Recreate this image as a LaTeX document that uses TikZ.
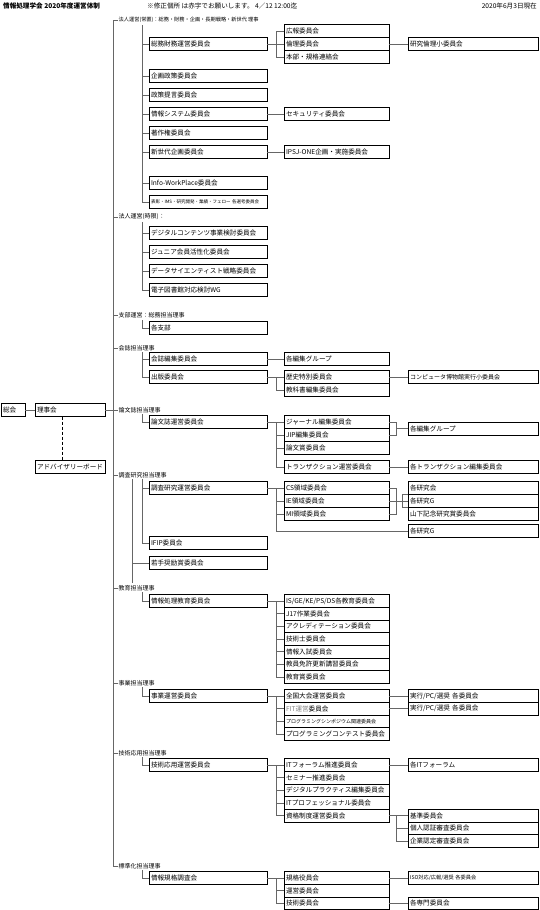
\documentclass[tikz,border=0pt]{standalone}
\usepackage{fontspec}
\setmainfont{Noto Sans CJK JP}
\begin{document}
\begin{tikzpicture}[x=1pt,y=-1pt,
  box/.style={draw=black, line width=0.6pt, anchor=west, inner xsep=2pt, inner ysep=0pt, outer sep=0pt, minimum height=13pt, align=left, font=\fontsize{6.6}{7}\selectfont},
  sb/.style={minimum height=12.7pt},
  c1/.style={box, text width=114pt},
  c2/.style={box, text width=101pt},
  c3/.style={box, text width=126pt},
  conn/.style={draw=black!60, line width=0.75pt},
  cat/.style={anchor=west, inner sep=0.5pt, font=\fontsize{6}{7}\selectfont},
  hdr/.style={inner sep=0pt, font=\fontsize{6.6}{7}\selectfont},
]
\useasboundingbox (0,0) rectangle (540,910);

% header
\node[hdr, anchor=west, font=\bfseries\fontsize{6.6}{7}\selectfont] (title) at (3,6) {情報処理学会 2020年度運営体制};
\node[hdr, anchor=west] (note) at (147,6) {※修正個所 は赤字でお願いします。 4／12 12:00迄};
\node[hdr, anchor=east] (date) at (537,6) {2020年6月3日現在};

% left
\node[box, text width=20pt] (sokai) at (1,410) {総会};
\node[box, text width=66pt] (rijikai) at (35,410) {理事会};
\node[box, text width=66pt] (adv) at (35,467) {アドバイザリーボード};
\draw[conn] (sokai) -- (rijikai);
\draw[draw=black, line width=0.7pt, dash pattern=on 3pt off 2pt] ([xshift=27pt]rijikai.south west) -- ([xshift=27pt]adv.north west);

% category labels
\node[cat, font=\fontsize{5.2}{6}\selectfont] (L1) at (118,20) {法人運営(常置)：総務・財務・企画・長期戦略・新世代 理事};
\node[cat] (L2) at (118,217) {法人運営(時限)：};
\node[cat] (L3) at (118,315) {支部運営：総務担当理事};
\node[cat] (L4) at (118,348) {会誌担当理事};
\node[cat] (L5) at (118,410) {論文誌担当理事};
\node[cat] (L6) at (118,475) {調査研究担当理事};
\node[cat] (L7) at (118,588) {教育担当理事};
\node[cat] (L8) at (118,683) {事業担当理事};
\node[cat] (L9) at (118,753) {技術応用担当理事};
\node[cat] (L10) at (118,866) {標準化担当理事};

% main trunk
\coordinate (Tbot) at (113,866);
\draw[conn] (L1.west) -| (Tbot) -- (L10.west);
\foreach \l in {L2,L3,L4,L6,L7,L8,L9} \draw[conn] (\l.west -| Tbot) -- (\l.west);
\draw[conn] (rijikai.east) -- (L5.west);

% column 1
\node[c1] (a1) at (149,44) {総務財務運営委員会};
\node[c1] (a2) at (149,76) {企画政策委員会};
\node[c1] (a3) at (149,95) {政策提言委員会};
\node[c1] (a4) at (149,114) {情報システム委員会};
\node[c1] (a5) at (149,133) {著作権委員会};
\node[c1] (a6) at (149,152) {新世代企画委員会};
\node[c1] (a7) at (149,183) {Info-WorkPlace委員会};
\node[c1, font=\fontsize{4.5}{5}\selectfont] (a8) at (149,202) {表彰・IMS・研究開発・業績・フェロー 各選考委員会};
\node[c1] (b1) at (149,233) {デジタルコンテンツ事業検討委員会};
\node[c1] (b2) at (149,252) {ジュニア会員活性化委員会};
\node[c1] (b3) at (149,271) {データサイエンティスト戦略委員会};
\node[c1] (b4) at (149,290) {電子図書館対応検討WG};
\node[c1] (d1) at (149,328) {各支部};
\node[c1] (e1) at (149,359) {会誌編集委員会};
\node[c1] (e2) at (149,377) {出版委員会};
\node[c1] (f1) at (149,422) {論文誌運営委員会};
\node[c1] (g1) at (149,488) {調査研究運営委員会};
\node[c1] (g2) at (149,543) {IFIP委員会};
\node[c1] (g3) at (149,563) {若手奨励賞委員会};
\node[c1] (h1) at (149,601) {情報処理教育委員会};
\node[c1] (i1) at (149,696) {事業運営委員会};
\node[c1] (j1) at (149,765) {技術応用運営委員会};
\node[c1] (k1) at (149,878) {情報規格調査会};

% sub trunks
\coordinate (s1) at (142,25);
\coordinate (s2) at (142,222);
\coordinate (s3) at (142,320);
\coordinate (s4) at (142,352);
\coordinate (s5) at (142,414);
\coordinate (s6) at (142,479);
\coordinate (s6b) at (132,479);
\coordinate (s6e) at (132,583);
\coordinate (s7) at (142,592);
\coordinate (s8) at (142,687);
\coordinate (s9) at (142,757);
\coordinate (s10) at (142,870);
\foreach \c in {a1,a2,a3,a4,a5,a6,a7,a8} \draw[conn] (s1) |- (\c.west);
\foreach \c in {b1,b2,b3,b4} \draw[conn] (s2) |- (\c.west);
\draw[conn] (s3) |- (d1.west);
\foreach \c in {e1,e2} \draw[conn] (s4) |- (\c.west);
\draw[conn] (s5) |- (f1.west);
\foreach \c in {g1,g2} \draw[conn] (s6) |- (\c.west);
\draw[conn] (s6b) -- (s6e);
\draw[conn] (g3.west -| s6b) -- (g3.west);
\draw[conn] (s7) |- (h1.west);
\draw[conn] (s8) |- (i1.west);
\draw[conn] (s9) |- (j1.west);
\draw[conn] (s10) |- (k1.west);

% column 2
\node[c2] (a1x) at (284,31) {広報委員会};
\node[c2] (a1y) at (284,44) {倫理委員会};
\node[c2] (a1z) at (284,57) {本部・規格連絡会};
\node[c2] (a4x) at (284,114) {セキュリティ委員会};
\node[c2] (a6x) at (284,152) {IPSJ-ONE企画・実施委員会};
\node[c2] (e1x) at (284,359) {各編集グループ};
\node[c2] (e2x) at (284,377) {歴史特別委員会};
\node[c2] (e2y) at (284,390) {教科書編集委員会};
\node[c2] (f1a) at (284,422) {ジャーナル編集委員会};
\node[c2] (f1b) at (284,435) {JIP編集委員会};
\node[c2] (f1c) at (284,448) {論文賞委員会};
\node[c2] (f1d) at (284,467) {トランザクション運営委員会};
\node[c2] (g1a) at (284,488) {CS領域委員会};
\node[c2] (g1b) at (284,501) {IE領域委員会};
\node[c2] (g1c) at (284,514) {MI領域委員会};
\node[c2, sb] (h1a) at (284,601) {IS/GE/KE/PS/DS各教育委員会};
\node[c2, sb] (h1b) at (284,613.7) {J17作業委員会};
\node[c2, sb] (h1c) at (284,626.3) {アクレディテーション委員会};
\node[c2, sb] (h1d) at (284,639) {技術士委員会};
\node[c2, sb] (h1e) at (284,651.7) {情報入試委員会};
\node[c2, sb] (h1f) at (284,664.3) {教員免許更新講習委員会};
\node[c2, sb] (h1g) at (284,677) {教育賞委員会};
\node[c2, sb] (i1a) at (284,696) {全国大会運営委員会};
\node[c2, sb] (i1b) at (284,708.7) {{\color{black!50}FIT運営}委員会};
\node[c2, sb, font=\fontsize{5}{6}\selectfont] (i1c) at (284,721.3) {プログラミングシンポジウム関連委員会};
\node[c2, sb] (i1d) at (284,734) {プログラミングコンテスト委員会};
\node[c2, sb] (j1a) at (284,765) {ITフォーラム推進委員会};
\node[c2, sb] (j1b) at (284,777.7) {セミナー推進委員会};
\node[c2, sb] (j1c) at (284,790.3) {デジタルプラクティス編集委員会};
\node[c2, sb] (j1d) at (284,803) {ITプロフェッショナル委員会};
\node[c2, sb] (j1e) at (284,815.7) {資格制度運営委員会};
\node[c2, sb] (k1a) at (284,878) {規格役員会};
\node[c2, sb] (k1b) at (284,890.7) {運営委員会};
\node[c2, sb] (k1c) at (284,903.3) {技術委員会};

% column 3
\node[c3] (a1yy) at (408,44) {研究倫理小委員会};
\node[c3, font=\fontsize{6}{7}\selectfont] (e2xx) at (408,377) {コンピュータ博物館実行小委員会};
\node[c3] (f1z) at (408,428.5) {各編集グループ};
\node[c3] (f1dd) at (408,467) {各トランザクション編集委員会};
\node[c3] (g1r) at (408,488) {各研究会};
\node[c3] (g1s) at (408,501) {各研究G};
\node[c3] (g1t) at (408,514) {山下記念研究賞委員会};
\node[c3] (g1u) at (408,531) {各研究G};
\node[c3, sb] (i1aa) at (408,696) {実行/PC/選奨 各委員会};
\node[c3, sb] (i1bb) at (408,708.7) {実行/PC/選奨 各委員会};
\node[c3, sb] (j1aa) at (408,765) {各ITフォーラム};
\node[c3, sb] (j1ea) at (408,815.7) {基準委員会};
\node[c3, sb] (j1eb) at (408,828.3) {個人認証審査委員会};
\node[c3, sb] (j1ec) at (408,841) {企業認定審査委員会};
\node[c3, sb, font=\fontsize{5.2}{6}\selectfont] (k1aa) at (408,878) {ISO対応/広報/選奨 各委員会};
\node[c3, sb] (k1cc) at (408,903.3) {各専門委員会};

% col1 -> col2
\coordinate (fa1) at ([xshift=9pt]a1.east);
\draw[conn] (a1.east) -- (fa1);
\foreach \c in {a1x,a1y,a1z} \draw[conn] (fa1) |- (\c.west);
\draw[conn] (a4.east) -- (a4x.west);
\draw[conn] (a6.east) -- (a6x.west);
\draw[conn] (e1.east) -- (e1x.west);
\coordinate (fe2) at ([xshift=9pt]e2.east);
\draw[conn] (e2.east) -- (fe2);
\foreach \c in {e2x,e2y} \draw[conn] (fe2) |- (\c.west);
\coordinate (ff1) at ([xshift=9pt]f1.east);
\draw[conn] (f1.east) -- (ff1);
\foreach \c in {f1a,f1b,f1c,f1d} \draw[conn] (ff1) |- (\c.west);
\coordinate (fg1) at ([xshift=9pt]g1.east);
\draw[conn] (g1.east) -- (fg1);
\foreach \c in {g1a,g1b,g1c,g1u} \draw[conn] (fg1) |- (\c.west);
\coordinate (fh1) at ([xshift=9pt]h1.east);
\draw[conn] (h1.east) -- (fh1);
\foreach \c in {h1a,h1b,h1c,h1d,h1e,h1f,h1g} \draw[conn] (fh1) |- (\c.west);
\coordinate (fi1) at ([xshift=9pt]i1.east);
\draw[conn] (i1.east) -- (fi1);
\foreach \c in {i1a,i1b,i1c,i1d} \draw[conn] (fi1) |- (\c.west);
\coordinate (fj1) at ([xshift=9pt]j1.east);
\draw[conn] (j1.east) -- (fj1);
\foreach \c in {j1a,j1b,j1c,j1d,j1e} \draw[conn] (fj1) |- (\c.west);
\coordinate (fk1) at ([xshift=9pt]k1.east);
\draw[conn] (k1.east) -- (fk1);
\foreach \c in {k1a,k1b,k1c} \draw[conn] (fk1) |- (\c.west);

% col2 -> col3
\draw[conn] (a1y.east) -- (a1yy.west);
\draw[conn] (e2x.east) -- (e2xx.west);
\coordinate (bf) at ([xshift=7pt]f1a.east);
\draw[conn] (f1a.east) -- (bf) |- (f1b.east);
\draw[conn] (f1z.west) -- (f1z.west -| bf);
\draw[conn] (f1d.east) -- (f1dd.west);
\coordinate (bg) at ([xshift=7pt]g1a.east);
\draw[conn] (g1a.east) -- (bg) |- (g1c.east);
\draw[conn] (g1b.east) -- (g1s.west);
\coordinate (bg2t) at ([xshift=-6pt]g1r.south west);
\coordinate (bg2b) at ([xshift=-6pt]g1s.south west);
\draw[conn] (g1r.south west) -- (bg2t) -- (bg2b) -- (g1s.south west);
\draw[conn] (i1a.east) -- (i1aa.west);
\draw[conn] (i1b.east) -- (i1bb.west);
\draw[conn] (j1a.east) -- (j1aa.west);
\coordinate (bj) at ([xshift=7pt]j1e.east);
\draw[conn] (j1e.east) -- (bj);
\foreach \c in {j1ea,j1eb,j1ec} \draw[conn] (bj) |- (\c.west);
\draw[conn] (k1a.east) -- (k1aa.west);
\draw[conn] (k1c.east) -- (k1cc.west);
\end{tikzpicture}
\end{document}
